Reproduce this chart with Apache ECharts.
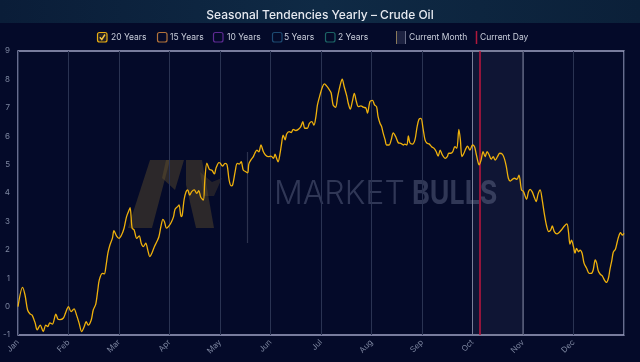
<!DOCTYPE html>
<html>
<head>
<meta charset="utf-8">
<script src="https://cdn.jsdelivr.net/npm/echarts@6/dist/echarts.min.js"></script>
<style>
html,body{margin:0;padding:0;background:#040a29;}
#c{width:640px;height:362px;}
</style>
</head>
<body>
<div id="c"></div>
<script>
// ---- data ----
const monthLabels = ['Jan','Feb','Mar','Apr','May','Jun','Jul','Aug','Sep','Oct','Nov','Dec'];
const yTicks = [-1,0,1,2,3,4,5,6,7,8,9];
// position in the year, in months (0 = Jan 1, 12 = end of Dec)
const yearPos = [
0.00,0.09,0.14,0.19,0.24,0.28,0.34,0.38,0.44,0.50,0.55,0.59,0.63,0.68,0.75,0.79,0.83,0.90,0.94,
1.00,1.05,1.11,1.16,1.21,1.26,1.31,1.35,1.39,1.45,1.49,1.54,1.58,1.61,1.67,1.71,1.74,1.78,1.82,1.87,1.90,1.95,
2.00,2.05,2.10,2.15,2.20,2.22,2.26,2.30,2.35,2.40,2.44,2.48,2.53,2.57,2.61,2.65,2.70,2.75,2.79,2.83,2.87,2.90,2.94,
2.99,3.04,3.08,3.11,3.16,3.19,3.23,3.25,3.29,3.33,3.36,3.40,3.44,3.49,3.54,3.58,3.62,3.67,3.70,3.74,3.79,3.84,3.89,3.92,3.98,
4.00,4.05,4.10,4.14,4.18,4.22,4.25,4.30,4.34,4.38,4.42,4.46,4.51,4.55,4.57,4.61,4.66,4.69,4.73,4.77,4.81,4.86,4.90,4.96,
5.01,5.06,5.09,5.12,5.15,5.19,5.22,5.25,5.29,5.32,5.37,5.41,5.45,5.50,5.55,5.60,5.64,5.68,5.73,5.77,5.82,5.86,5.90,5.93,5.98,
6.03,6.07,6.11,6.16,6.20,6.24,6.29,6.33,6.38,6.42,6.46,6.51,6.54,6.58,6.62,6.66,6.70,6.74,6.79,6.84,6.89,6.92,6.97,
7.02,7.06,7.10,7.13,7.17,7.20,7.23,7.27,7.30,7.35,7.39,7.43,7.48,7.53,7.58,7.63,7.66,7.70,7.73,7.76,7.81,7.86,7.90,7.94,7.98,
8.02,8.06,8.10,8.14,8.19,8.24,8.28,8.32,8.36,8.40,8.46,8.50,8.53,8.57,8.61,8.65,8.69,8.73,8.76,8.79,8.83,8.87,8.90,8.95,
9.00,9.04,9.07,9.10,9.13,9.17,9.21,9.25,9.29,9.33,9.37,9.41,9.45,9.50,9.54,9.59,9.63,9.67,9.71,9.75,9.79,9.83,9.88,9.92,9.97,
10.01,10.07,10.11,10.14,10.18,10.22,10.26,10.30,10.34,10.38,10.42,10.47,10.51,10.55,10.58,10.62,10.67,10.71,10.77,10.82,10.87,10.90,10.93,10.96,
11.00,11.03,11.06,11.10,11.13,11.17,11.21,11.26,11.31,11.35,11.39,11.43,11.46,11.49,11.53,11.57,11.61,11.65,11.69,11.72,11.76,11.79,11.83,11.86,11.89,11.93,11.97,12.00
];
// 20-year average seasonal return (%)
const avg20y = [
0.00,0.68,0.40,-0.12,-0.26,-0.30,-0.58,-0.82,-0.65,-0.88,-0.65,-0.70,-0.57,-0.62,-0.27,-0.44,-0.46,-0.40,-0.23,
0.00,-0.18,-0.08,-0.30,-0.58,-0.88,-0.71,-0.53,-0.65,-0.47,-0.12,0.09,0.58,0.94,1.17,1.15,1.40,1.88,2.17,2.41,2.67,2.49,
2.40,2.52,2.76,3.17,3.40,3.48,2.76,2.70,2.40,2.49,2.23,2.11,2.23,1.99,1.76,1.88,2.11,2.29,2.46,2.82,3.07,2.99,2.76,
2.84,2.99,3.17,3.43,3.52,3.58,3.17,3.20,3.78,4.05,4.11,3.93,4.05,4.11,3.99,4.08,3.85,3.75,4.46,5.05,4.83,4.80,4.67,4.87,5.07,
5.06,4.95,5.04,4.99,4.46,4.25,4.28,4.75,5.04,5.02,5.10,4.81,4.75,4.71,5.02,5.16,5.28,5.40,5.51,5.45,5.69,5.45,5.34,5.28,
5.30,5.22,5.37,5.22,5.10,5.40,5.75,6.04,5.87,6.08,6.16,6.13,6.24,6.20,6.24,6.34,6.51,6.28,6.28,6.45,6.51,6.39,6.70,7.10,7.45,
7.74,7.84,7.77,7.65,7.53,7.10,7.02,7.39,7.80,8.01,7.74,7.42,7.16,6.95,7.22,7.51,7.22,7.04,7.07,7.02,6.99,6.81,7.22,
7.26,7.10,7.04,6.69,6.45,6.34,6.12,5.87,5.69,5.69,5.87,6.12,5.98,5.77,5.75,5.69,5.72,5.69,6.01,5.77,5.72,5.87,6.30,6.60,6.63,
6.28,5.87,5.75,5.73,5.63,5.57,5.46,5.30,5.51,5.35,5.22,5.28,5.40,5.40,5.46,5.63,5.57,6.24,5.87,5.28,5.40,5.57,5.65,5.51,
5.69,5.63,5.40,5.16,4.99,5.16,5.46,5.28,5.46,5.34,5.19,5.28,5.16,5.30,5.40,5.37,5.22,4.93,4.52,4.42,4.48,4.52,4.48,4.63,4.11,
4.05,3.78,4.05,4.13,4.05,3.87,3.70,3.97,4.11,3.76,3.29,2.82,2.64,2.70,2.84,2.64,2.56,2.60,2.72,2.84,2.91,2.64,2.20,2.34,
2.11,1.88,2.05,1.93,1.99,1.88,1.52,1.35,1.17,1.17,1.29,1.64,1.52,1.26,1.14,1.08,0.94,0.85,0.99,1.29,1.64,1.93,2.02,2.23,2.44,2.60,2.52,2.58
];
const currentMonthRange = [9, 10];   // October
const currentDayPos = 9.15;          // early October
const legendNames = ['20 Years','15 Years','10 Years','5 Years','2 Years','Current Month','Current Day'];

// ---- chart ----
const chart = echarts.init(document.getElementById('c'), null, {renderer:'canvas'});
const seriesData = yearPos.map((x,i)=>[x, avg20y[i]]);
const FONT = 'Inter, Roboto, "Noto Sans", sans-serif';
const LEG_FONT = '8.5px ' + FONT;

const legendColors = ['#e8ad12','#b2733b','#5e2a93','#1d4a72','#1c6466'];
const boxX = [97, 157, 213, 272, 325];
const textX = [111, 170, 227, 284, 338];
const legendGraphics = [];
for (let i=0;i<5;i++){
  legendGraphics.push({type:'rect', shape:{x:boxX[i]+0.5,y:32.5,width:9.5,height:9.5,r:2},
    style:{fill: i===0 ? 'rgba(232,173,18,0.15)' : 'none', stroke:legendColors[i], lineWidth:1.2}});
  legendGraphics.push({type:'text', x:textX[i], y:37.5,
    style:{text:legendNames[i], fill:'#c9cedb', font:LEG_FONT, textVerticalAlign:'middle'}});
}
legendGraphics.push({type:'polyline', shape:{points:[[boxX[0]+2.8,37.3],[boxX[0]+4.8,39.5],[boxX[0]+8,34.5]]},
  style:{stroke:'#f4c543', lineWidth:1.4, fill:'none'}});
// current month marker
legendGraphics.push({type:'rect', shape:{x:396,y:31,width:10,height:13}, style:{fill:'rgba(120,125,150,0.22)'}});
legendGraphics.push({type:'line', shape:{x1:396.5,y1:31,x2:396.5,y2:44}, style:{stroke:'#8a7a5a', lineWidth:1}});
legendGraphics.push({type:'line', shape:{x1:405.5,y1:31,x2:405.5,y2:44}, style:{stroke:'#6a6e88', lineWidth:1}});
legendGraphics.push({type:'text', x:409, y:37.5, style:{text:legendNames[5], fill:'#c9cedb', font:LEG_FONT, textVerticalAlign:'middle'}});
legendGraphics.push({type:'line', shape:{x1:476.5,y1:31,x2:476.5,y2:44}, style:{stroke:'#b0183c', lineWidth:1.5}});
legendGraphics.push({type:'text', x:480, y:37.5, style:{text:legendNames[6], fill:'#c9cedb', font:LEG_FONT, textVerticalAlign:'middle'}});

const BROWN = 'rgba(105,85,45,0.40)';
const watermark = [
  {type:'polygon', z:-1, shape:{points:[[128,228],[150,160],[170,160],[152,228]]}, style:{fill:BROWN}},
  {type:'polygon', z:-1, shape:{points:[[166,160],[184,160],[175,190],[162,178]]}, style:{fill:BROWN}},
  {type:'polygon', z:-1, shape:{points:[[186,160],[202,160],[214,228],[196,228],[186,185]]}, style:{fill:BROWN}},
  {type:'polygon', z:-1, shape:{points:[[200,172],[212,182],[222,178],[214,196],[204,196]]}, style:{fill:'rgba(105,85,45,0.30)'}},
  {type:'line', z:-1, shape:{x1:247.5,y1:152,x2:247.5,y2:243}, style:{stroke:'rgba(120,125,150,0.35)', lineWidth:1.2}},
  {type:'text', z:-1, x:274, y:194, style:{text:'MARKET', fill:'rgba(115,122,155,0.40)', font:'300 32px '+FONT, textVerticalAlign:'middle'}},
  {type:'text', z:-1, x:412, y:194, scaleX:0.84, originX:0, originY:0,
    style:{text:'BULLS', fill:'rgba(115,122,155,0.40)', font:'bold 32px '+FONT, textVerticalAlign:'middle'}}
];

chart.setOption({
  backgroundColor:'#040a29',
  animation:false,
  title:{text:'Seasonal Tendencies Yearly – Crude Oil', left:'center', top:4,
    textStyle:{color:'#e6e9f0', fontSize:12, fontWeight:500, fontFamily:FONT}},
  grid:{left:18, right:16, top:51, bottom:27, show:true, borderColor:'#9ea3c4', borderWidth:1.3, backgroundColor:'transparent'},
  xAxis:{type:'value', min:0, max:12, interval:1,
    axisLine:{show:false}, axisTick:{show:false},
    splitLine:{show:true, lineStyle:{color:'#2a3352', width:1}},
    axisLabel:{rotate:45, fontSize:8, color:'#7d86a0', fontFamily:FONT, margin:6,
      formatter:(v)=> monthLabels[Math.round(v)] || ''}
  },
  yAxis:{type:'value', min:yTicks[0], max:yTicks[yTicks.length-1], interval:1,
    axisLine:{show:false}, axisTick:{show:false}, splitLine:{show:false},
    axisLabel:{fontSize:8, color:'#7d86a0', fontFamily:FONT, margin:8}
  },
  graphic:[
    {type:'rect', z:-2, shape:{x:0,y:0,width:640,height:23},
      style:{fill:new echarts.graphic.LinearGradient(0,0,1,0,[{offset:0,color:'#0a1d38'},{offset:0.5,color:'#0f2a45'},{offset:1,color:'#0b2039'}])}},
    ...watermark,
    ...legendGraphics
  ],
  series:[{
    name:legendNames[0], type:'line', data:seriesData, showSymbol:false, smooth:0.3,
    lineStyle:{color:'#efb10c', width:1.3}, z:5,
    markArea:{silent:true, itemStyle:{color:'rgba(130,135,170,0.09)', borderColor:'#7a7f98', borderWidth:1},
      data:[[{xAxis:currentMonthRange[0]},{xAxis:currentMonthRange[1]}]]},
    markLine:{silent:true, symbol:'none', label:{show:false},
      lineStyle:{color:'#c0163e', width:1.5, type:'solid'},
      data:[{xAxis:currentDayPos}]}
  }]
});
</script>
</body>
</html>
